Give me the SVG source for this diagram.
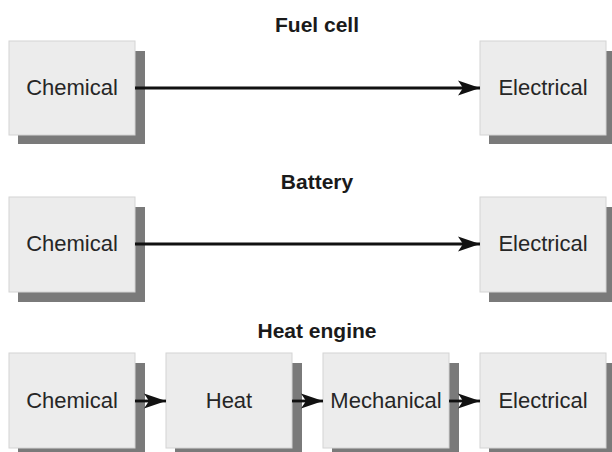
<svg xmlns="http://www.w3.org/2000/svg" width="612" height="452" viewBox="0 0 612 452">
<defs>
<style>
.box{fill:#ececec;stroke:#d4d4d4;stroke-width:1}
.shadow{fill:#7a7a7a}
.lbl{font-family:"Liberation Sans",Arial,sans-serif;font-size:22px;fill:#262626;text-anchor:middle}
.ttl{font-family:"Liberation Sans",Arial,sans-serif;font-size:21px;font-weight:bold;fill:#1a1a1a;text-anchor:middle}
.conn{stroke:#111;stroke-width:2.8;fill:none;marker-end:url(#ah)}
</style>
<marker id="ah" markerWidth="24" markerHeight="18" refX="22" refY="9" orient="auto" markerUnits="userSpaceOnUse">
<path d="M0,1.5 L22,9 L0,16.5 L5,9 Z" fill="#111"/>
</marker>
</defs>
<rect width="612" height="452" fill="#fff"/>
<text class="ttl" x="317" y="32">Fuel cell</text>
<text class="ttl" x="317" y="189">Battery</text>
<text class="ttl" x="317" y="338">Heat engine</text>

<g id="fc-chemical"><rect class="shadow" x="18" y="51" width="127" height="93"/><rect class="box" x="9" y="41" width="126" height="94"/><text class="lbl" x="72" y="95">Chemical</text></g>
<g id="fc-electrical"><rect class="shadow" x="489" y="51" width="127" height="93"/><rect class="box" x="480" y="41" width="126" height="94"/><text class="lbl" x="543" y="95">Electrical</text></g>

<g id="bt-chemical"><rect class="shadow" x="18" y="207" width="127" height="95"/><rect class="box" x="9" y="197" width="126" height="95"/><text class="lbl" x="72" y="251">Chemical</text></g>
<g id="bt-electrical"><rect class="shadow" x="489" y="207" width="127" height="95"/><rect class="box" x="480" y="197" width="126" height="95"/><text class="lbl" x="543" y="251">Electrical</text></g>

<g id="he-chemical"><rect class="shadow" x="18" y="363" width="127" height="95"/><rect class="box" x="9" y="353" width="126" height="95"/><text class="lbl" x="72" y="408">Chemical</text></g>
<g id="he-heat"><rect class="shadow" x="175" y="363" width="127" height="95"/><rect class="box" x="166" y="353" width="126" height="95"/><text class="lbl" x="229" y="408">Heat</text></g>
<g id="he-mechanical"><rect class="shadow" x="332" y="363" width="127" height="95"/><rect class="box" x="323" y="353" width="126" height="95"/><text class="lbl" x="386" y="408">Mechanical</text></g>
<g id="he-electrical"><rect class="shadow" x="489" y="363" width="127" height="95"/><rect class="box" x="480" y="353" width="126" height="95"/><text class="lbl" x="543" y="408">Electrical</text></g>

<g id="connectors">
<line class="conn" x1="135" y1="88" x2="480" y2="88"/>
<line class="conn" x1="135" y1="244" x2="480" y2="244"/>
<line class="conn" x1="135" y1="401" x2="166" y2="401"/>
<line class="conn" x1="292" y1="401" x2="323" y2="401"/>
<line class="conn" x1="449" y1="401" x2="480" y2="401"/>
</g>
</svg>
